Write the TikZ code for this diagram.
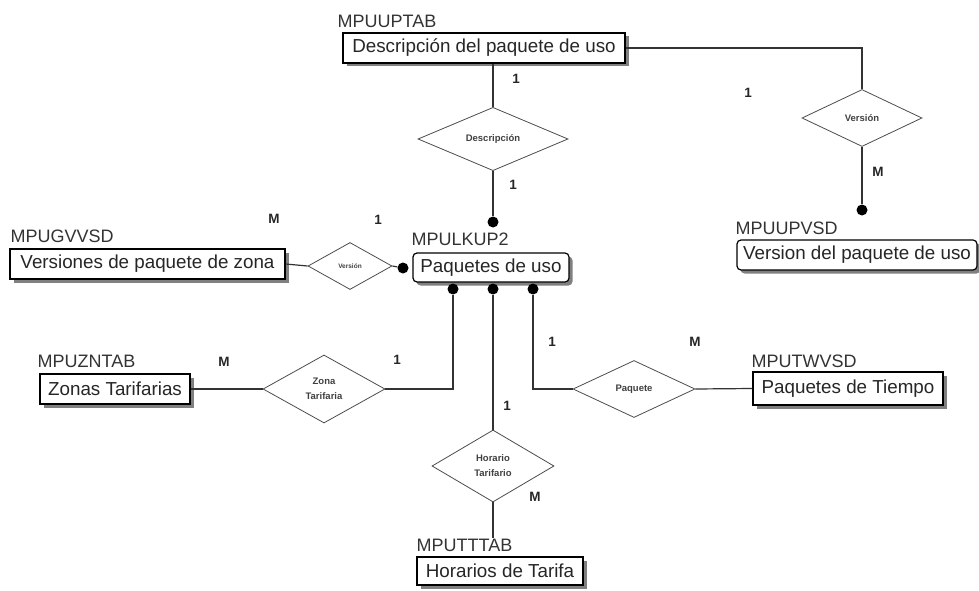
\documentclass[tikz,border=0pt]{standalone}
\usepackage{fontspec}
\setmainfont{Liberation Sans}
\usetikzlibrary{positioning,shapes.geometric,shadows}
\tikzset{
    entity/.style={draw, line width=1.2pt, fill=white, inner sep=0pt,
        minimum height=30pt, text=black!85, font=\fontsize{18.8}{20}\selectfont,
        drop shadow={shadow xshift=3.5pt, shadow yshift=-3.5pt, fill=black!50, opacity=1}},
    tag/.style={inner sep=0pt, text=black!80, font=\fontsize{18}{20}\selectfont},
    rel/.style={draw=black!70, line width=0.8pt, diamond, inner sep=0pt, align=center,
        text=black!75, font=\bfseries\fontsize{9.5}{15}\selectfont},
    card/.style={inner sep=0pt, text=black!85, font=\bfseries\fontsize{13.5}{14}\selectfont},
    dot/.style={circle, fill=black, inner sep=0pt, minimum size=11pt},
    link/.style={draw=black!80, line width=1.2pt}
}
\begin{document}
\begin{tikzpicture}[x=1pt, y=-1pt]
\useasboundingbox (0,0) rectangle (979,591);

\node[entity, minimum width=282pt] (desc) at (484, 48) {Descripción del paquete de uso};
\node[entity, minimum width=240pt, rounded corners=4pt] (verpaq) at (857, 255) {Version del paquete de uso};
\node[entity, minimum width=275pt] (verzona) at (147.5, 264) {Versiones de paquete de zona};
\node[entity, minimum width=156pt, minimum height=29pt, rounded corners=4pt] (paq) at (491, 267.5) {Paquetes de uso};
\node[entity, minimum width=150pt] (zonas) at (115, 389) {Zonas Tarifarias};
\node[entity, minimum width=190pt, minimum height=33pt] (tiempo) at (848, 388.5) {Paquetes de Tiempo};
\node[entity, minimum width=166pt, minimum height=28pt] (horarios) at (500, 571) {Horarios de Tarifa};

\node[tag, above right=5pt and -5pt of desc.north west] (tagdesc) {MPUUPTAB};
\node[tag, above right=5pt and -1pt of verpaq.north west] (tagverpaq) {MPUUPVSD};
\node[tag, above right=6pt and 1pt of verzona.north west] (tagverzona) {MPUGVVSD};
\node[tag, above right=7pt and -1pt of paq.north west] (tagpaq) {MPULKUP2};
\node[tag, above right=6pt and -2pt of zonas.north west] (tagzonas) {MPUZNTAB};
\node[tag, above right=4pt and -1pt of tiempo.north west] (tagtiempo) {MPUTWVSD};
\node[tag, above right=5pt and 0pt of horarios.north west] (taghorarios) {MPUTTTAB};

\node[rel, minimum width=150pt, minimum height=57pt] (descd) at (493, 139) {Descripción};
\node[rel, minimum width=120pt, minimum height=57pt] (verd) at (862, 118) {Versión};
\node[rel, minimum width=84pt, minimum height=47pt, font=\bfseries\fontsize{6.5}{8}\selectfont] (verzd) at (350, 266) {Versión};
\node[rel, minimum width=122pt, minimum height=68pt] (zonad) at (324, 389) {Zona\\Tarifaria};
\node[rel, minimum width=122pt, minimum height=57pt] (paqd) at (634, 389) {Paquete};
\node[rel, minimum width=122pt, minimum height=72pt] (hord) at (493, 466) {Horario\\Tarifario};

\foreach \n/\x/\y in {dtop/493/222, dleft/403/268, dzona/453/289, dhor/493/289, dpaq/533/289, dver/862/210} {
    \node[dot] (\n) at (\x, \y) {};
}

\draw[link] (desc.east) -| (verd.north);
\draw[link] (descd.north) -- (descd.north |- desc.south);
\draw[link] (descd.south) -- (dtop);
\draw[link] (verd.south) -- (dver);
\draw[link] (verzona.east) -- (verzd.west);
\draw[link] (verzd.east) -- (dleft);
\draw[link] (zonas.east) -- (zonad.west);
\draw[link] (zonad.east) -| (dzona);
\draw[link] (dhor) -- (hord.north);
\draw[link] (hord.south) -- (hord.south |- taghorarios.north);
\draw[link] (dpaq) |- (paqd.west);
\draw[link] (paqd.east) -- (tiempo.west);

\node[card] (c1) at (516, 79) {1};
\node[card] (c2) at (748, 93) {1};
\node[card] (c3) at (513, 185) {1};
\node[card] (c4) at (878, 172) {M};
\node[card] (c5) at (274, 219) {M};
\node[card] (c6) at (378, 220) {1};
\node[card] (c7) at (224, 362) {M};
\node[card] (c8) at (397, 360) {1};
\node[card] (c9) at (552, 342) {1};
\node[card] (c10) at (695, 342) {M};
\node[card] (c11) at (507, 406) {1};
\node[card] (c12) at (535, 497) {M};
\end{tikzpicture}
\end{document}
